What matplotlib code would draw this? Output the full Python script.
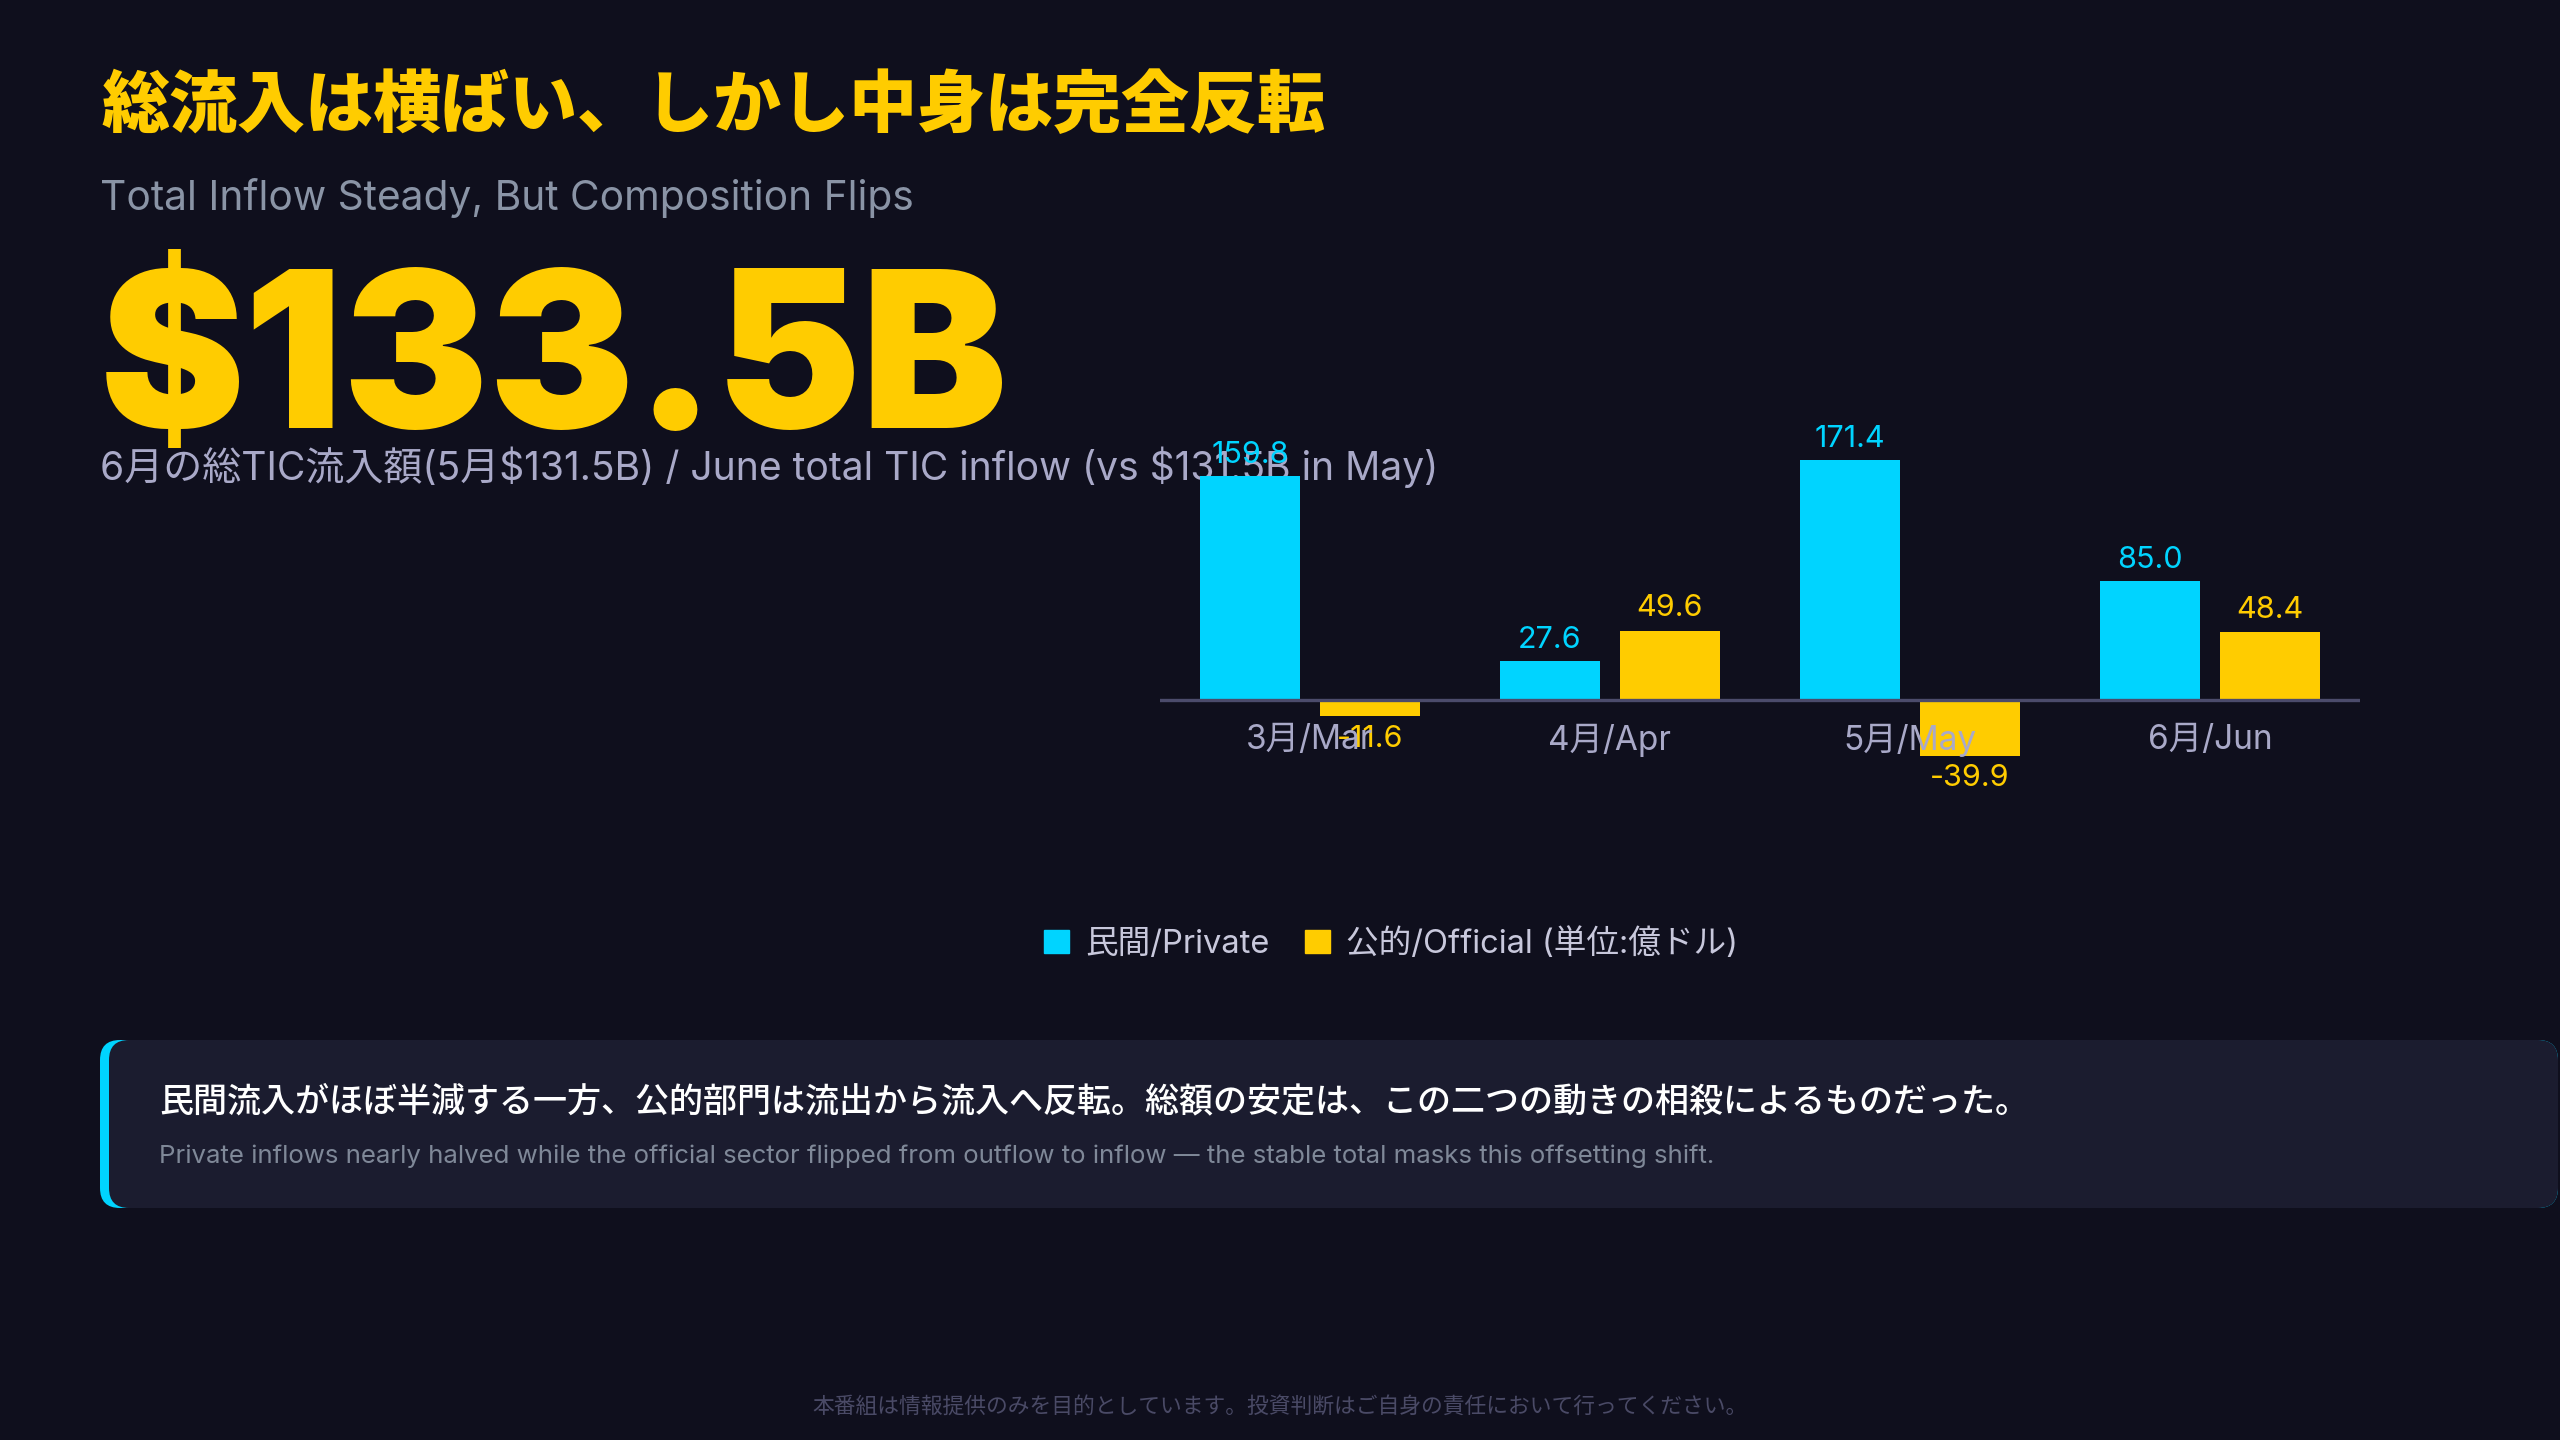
import numpy as np
import matplotlib.pyplot as plt
from matplotlib.patches import FancyBboxPatch, Patch

plt.rcParams['font.family'] = ['Inter', 'Noto Sans CJK JP', 'DejaVu Sans']
plt.rcParams['text.parse_math'] = False

# data (units: 100M USD as labelled in the chart)
months = ['3月/Mar', '4月/Apr', '5月/May', '6月/Jun']
private = [159.8, 27.6, 171.4, 85.0]
official = [-11.6, 49.6, -39.9, 48.4]
series_names = ['民間/Private', '公的/Official (単位:億ドル)']

title_jp = '総流入は横ばい、しかし中身は完全反転'
title_en = 'Total Inflow Steady, But Composition Flips'
big_value = '$133.5B'
big_caption = '6月の総TIC流入額(5月$131.5B) / June total TIC inflow (vs $131.5B in May)'
note_jp = '民間流入がほぼ半減する一方、公的部門は流出から流入へ反転。総額の安定は、この二つの動きの相殺によるものだった。'
note_en = ('Private inflows nearly halved while the official sector flipped from outflow '
           'to inflow \u2014 the stable total masks this offsetting shift.')
footer = '本番組は情報提供のみを目的としています。投資判断はご自身の責任において行ってください。'

BG = '#0f0f1d'
CYAN = '#00d4ff'
YELLOW = '#ffcc00'
W, H = 2560, 1440

fig = plt.figure(figsize=(25.6, 14.4), dpi=100, facecolor=BG)

# full-figure layer in pixel coordinates for text and the note box
bg = fig.add_axes([0, 0, 1, 1], zorder=0)
bg.set_xlim(0, W)
bg.set_ylim(H, 0)
bg.axis('off')
bg.set_facecolor(BG)

bg.text(101, 106, title_jp, color=YELLOW, fontsize=49, fontweight='black',
        va='center', ha='left', family=['Noto Sans CJK JP', 'DejaVu Sans'])
bg.text(100, 198, title_en, color='#8a94a6', fontsize=29.3, va='center', ha='left')
bg.text(100, 428, big_value, color=YELLOW, fontsize=157, fontweight='black',
        va='baseline', ha='left', family=['Inter', 'DejaVu Sans'])
bg.text(100, 467, big_caption, color='#a9a9c8', fontsize=28.1, va='center', ha='left')

# note box with cyan left accent
bg.add_patch(FancyBboxPatch((100, 1040), 2458, 168, boxstyle='round,pad=0,rounding_size=20',
                            fc=CYAN, ec='none'))
bg.add_patch(FancyBboxPatch((109, 1040), 2449, 168, boxstyle='round,pad=0,rounding_size=20',
                            fc='#1b1c2f', ec='none'))
bg.text(159, 1102, note_jp, color='white', fontsize=24.5, fontweight='medium', va='center', ha='left')
bg.text(159, 1156, note_en, color='#7f8898', fontsize=18.6, va='center', ha='left')

bg.text(W / 2, 1406, footer, color='#4a4a66', fontsize=15.7, va='center', ha='center')

# bar chart
ax = fig.add_axes([1160 / W, 1 - 800 / H, 1200 / W, 380 / H], zorder=2)
ax.set_facecolor('none')
x = np.arange(len(months))
bw = 1 / 3
b1 = ax.bar(x - 0.2, private, width=bw, color=CYAN, zorder=3)
b2 = ax.bar(x + 0.2, official, width=bw, color=YELLOW, zorder=3)
ax.axhline(0, color='#4b4b6b', lw=2.4, zorder=4)
ax.bar_label(b1, labels=[f'{v:.1f}' for v in private], padding=5, color=CYAN, fontsize=22)
ax.bar_label(b2, labels=[f'{v:.1f}' for v in official], padding=6, color=YELLOW, fontsize=22)
for xi, m in zip(x, months):
    ax.annotate(m, (xi, 0), xytext=(0, -29), textcoords='offset points',
                ha='center', va='center', color='#a9a9c8', fontsize=24, zorder=5)
ax.set_xlim(-0.5, len(months) - 0.5)
ax.set_ylim(-71.4, 200)
ax.axis('off')

handles = [Patch(color=CYAN), Patch(color=YELLOW)]
fig.legend(handles, series_names, loc='center', bbox_to_anchor=(1391 / W, 1 - 944 / H),
           ncol=2, frameon=False, fontsize=23.5, labelcolor='#c8c8dc',
           handlelength=0.75, handleheight=0.75, handletextpad=0.5, columnspacing=1.1)

fig.savefig('out.png', dpi=100, facecolor=BG)
